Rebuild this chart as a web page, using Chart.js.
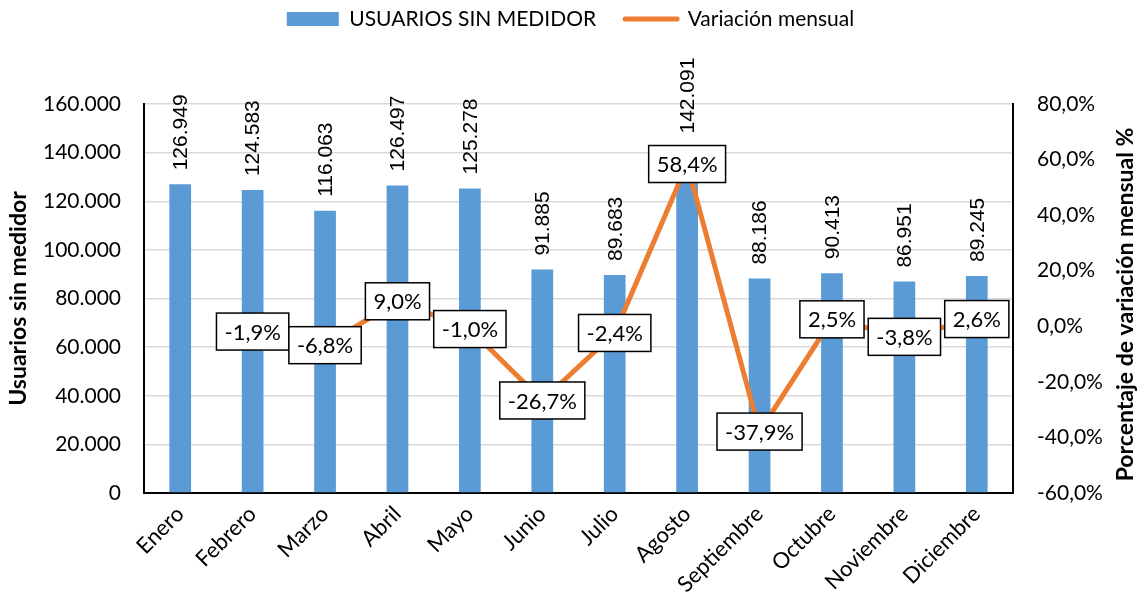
<!DOCTYPE html>
<html lang="es">
<head>
<meta charset="utf-8">
<title>Usuarios sin medidor</title>
<script src="https://cdn.jsdelivr.net/npm/chart.js@4.4.1/dist/chart.umd.min.js"></script>
<style>
  html, body { margin: 0; padding: 0; background: #fff; }
  canvas { display: block; }
</style>
</head>
<body>
<canvas id="graficaUsuarios" width="1141" height="606"></canvas>
<script>
// Datos mensuales
const meses = ["Enero", "Febrero", "Marzo", "Abril", "Mayo", "Junio", "Julio", "Agosto", "Septiembre", "Octubre", "Noviembre", "Diciembre"];
const usuariosSinMedidor = [126949, 124583, 116063, 126497, 125278, 91885, 89683, 142091, 88186, 90413, 86951, 89245];
const variacionMensual = [null, -1.9, -6.8, 9.0, -1.0, -26.7, -2.4, 58.4, -37.9, 2.5, -3.8, 2.6];

// Marcas de los ejes
const ticksUsuarios = [0, 20000, 40000, 60000, 80000, 100000, 120000, 140000, 160000];
const ticksVariacion = [-60, -40, -20, 0, 20, 40, 60, 80];

const AZUL = "#5B9BD5";
const NARANJA = "#ED7D31";
const FUENTE = "Lato, 'Open Sans', sans-serif";

function formatoMiles(v) {
    return String(v).replace(/\B(?=(\d{3})+(?!\d))/g, ".");
}

function formatoPorcentaje(v) {
    return v.toFixed(1).replace(".", ",") + "%";
}

// Etiquetas de valor sobre las barras y cajas sobre la línea
const etiquetasPlugin = {
    id: "etiquetas",
    afterDatasetsDraw(chart) {
        const ctx = chart.ctx;

        const metaBarras = chart.getDatasetMeta(0);
        ctx.save();
        ctx.fillStyle = "#000";
        ctx.font = "21px 'Liberation Sans', Arial, sans-serif";
        ctx.textAlign = "left";
        ctx.textBaseline = "middle";
        metaBarras.data.forEach((barra, i) => {
            ctx.save();
            ctx.translate(barra.x, barra.y - 14);
            ctx.rotate(-Math.PI / 2);
            ctx.fillText(formatoMiles(usuariosSinMedidor[i]), 0, 1);
            ctx.restore();
        });
        ctx.restore();

        const metaLinea = chart.getDatasetMeta(1);
        ctx.save();
        ctx.font = "22px " + FUENTE;
        ctx.textAlign = "center";
        ctx.textBaseline = "middle";
        metaLinea.data.forEach((punto, i) => {
            const valor = variacionMensual[i];
            if (valor === null || punto.skip) return;
            const texto = formatoPorcentaje(valor);
            const ancho = ctx.measureText(texto).width + 16;
            const alto = 37;
            const x = punto.x - ancho / 2;
            const y = punto.y - alto / 2;
            ctx.fillStyle = "#fff";
            ctx.fillRect(x, y, ancho, alto);
            ctx.strokeStyle = "#000";
            ctx.lineWidth = 1.5;
            ctx.strokeRect(x, y, ancho, alto);
            ctx.fillStyle = "#000";
            ctx.fillText(texto, punto.x, punto.y + 1);
        });
        ctx.restore();
    },
    afterDraw(chart) {
        // Título del eje derecho, leído de abajo hacia arriba
        const ctx = chart.ctx;
        const eje = chart.scales.y1;
        ctx.save();
        ctx.translate(eje.right - 15, (chart.chartArea.top + chart.chartArea.bottom) / 2 + 6);
        ctx.rotate(-Math.PI / 2);
        ctx.font = "bold 23px " + FUENTE;
        ctx.fillStyle = "#000";
        ctx.textAlign = "center";
        ctx.textBaseline = "middle";
        ctx.fillText("Porcentaje de variación mensual %", 0, 0);
        ctx.restore();
    }
};

// Leyenda más alta para dejar espacio a las etiquetas de las barras
const alturaLeyendaPlugin = {
    id: "alturaLeyenda",
    beforeInit(chart) {
        const fitOriginal = chart.legend.fit;
        chart.legend.fit = function () {
            fitOriginal.bind(chart.legend)();
            this.height = 124.5;
        };
    }
};

const ctx = document.getElementById("graficaUsuarios").getContext("2d");

new Chart(ctx, {
    data: {
        labels: meses,
        datasets: [
            {
                type: "bar",
                label: "USUARIOS SIN MEDIDOR",
                data: usuariosSinMedidor,
                backgroundColor: AZUL,
                borderWidth: 0,
                barPercentage: 0.3,
                categoryPercentage: 1,
                yAxisID: "y",
                order: 1,
            },
            {
                type: "line",
                label: "Variación mensual",
                data: variacionMensual,
                borderColor: NARANJA,
                backgroundColor: NARANJA,
                borderWidth: 5,
                pointRadius: 0,
                tension: 0,
                yAxisID: "y1",
                order: 0,
            },
        ],
    },
    options: {
        responsive: false,
        devicePixelRatio: 1,
        animation: false,
        layout: {
            padding: { top: -20.5, left: 0, right: 0, bottom: 0 },
        },
        plugins: {
            tooltip: { enabled: false },
            legend: {
                position: "top",
                labels: {
                    color: "#000",
                    font: { family: FUENTE, size: 21 },
                    usePointStyle: true,
                    pointStyleWidth: 52,
                    boxHeight: 14,
                    padding: 29,
                    generateLabels: (chart) => chart.data.datasets.map((ds, i) => ({
                        text: ds.label,
                        fillStyle: ds.type === "bar" ? ds.backgroundColor : "rgba(0,0,0,0)",
                        strokeStyle: ds.type === "bar" ? ds.backgroundColor : ds.borderColor,
                        lineWidth: ds.type === "bar" ? 0 : 5,
                        lineCap: "round",
                        pointStyle: ds.type === "bar" ? "rect" : "line",
                        fontColor: "#000",
                        datasetIndex: i,
                    })),
                },
            },
        },
        scales: {
            x: {
                grid: { display: false, drawTicks: false },
                border: { display: true, color: "#000", width: 2 },
                ticks: {
                    color: "#000",
                    font: { family: FUENTE, size: 22 },
                    maxRotation: 45,
                    minRotation: 45,
                    autoSkip: false,
                    padding: 8,
                },
                afterFit(scale) { scale.height = 113; },
            },
            y: {
                position: "left",
                min: 0,
                max: 160000,
                afterBuildTicks(scale) {
                    scale.ticks = ticksUsuarios.map(v => ({ value: v }));
                },
                grid: { color: "#D9D9D9", lineWidth: 1.5, drawTicks: false },
                border: { display: true, color: "#000", width: 2 },
                ticks: {
                    color: "#000",
                    font: { family: FUENTE, size: 21 },
                    padding: 23,
                    callback: (v) => formatoMiles(v),
                },
                title: {
                    display: true,
                    text: "Usuarios sin medidor",
                    color: "#000",
                    font: { family: FUENTE, size: 23, weight: "bold" },
                    padding: { top: 5, bottom: 0 },
                },
                afterFit(scale) { scale.width = 144; },
            },
            y1: {
                position: "right",
                min: -60,
                max: 80,
                afterBuildTicks(scale) {
                    scale.ticks = ticksVariacion.map(v => ({ value: v }));
                },
                grid: { display: false, drawTicks: false },
                border: { display: true, color: "#000", width: 2 },
                ticks: {
                    color: "#000",
                    font: { family: FUENTE, size: 21 },
                    padding: 24,
                    callback: (v) => formatoPorcentaje(v),
                },
                afterFit(scale) { scale.width = 128; },
            },
        },
    },
    plugins: [alturaLeyendaPlugin, etiquetasPlugin],
});
</script>
</body>
</html>
